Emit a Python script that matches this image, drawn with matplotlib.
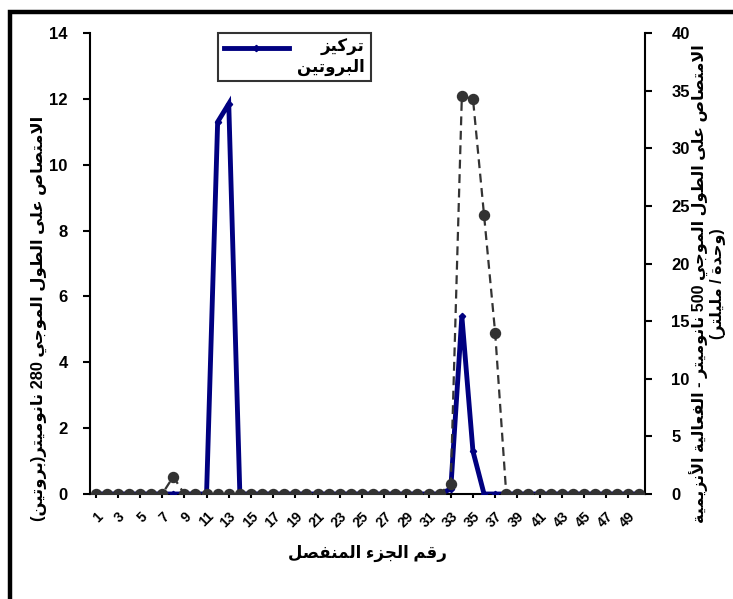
import re
import numpy as np
import matplotlib
matplotlib.use("Agg")
import matplotlib.pyplot as plt
from matplotlib.patches import Rectangle

# ---------------- data ----------------
fractions = list(range(1, 51))
protein = [0, 0, 0, 0, 0, 0, 0, 0, 0, 0,
           0, 11.3, 11.85, 0, 0, 0, 0, 0, 0, 0,
           0, 0, 0, 0, 0, 0, 0, 0, 0, 0,
           0, 0, 0.15, 5.4, 1.3, 0, 0, 0, 0, 0,
           0, 0, 0, 0, 0, 0, 0, 0, 0, 0]
enzyme = [0, 0, 0, 0, 0, 0, 0, 1.5, 0, 0,
          0, 0, 0, 0, 0, 0, 0, 0, 0, 0,
          0, 0, 0, 0, 0, 0, 0, 0, 0, 0,
          0, 0, 0.9, 34.5, 34.3, 24.2, 14.0, 0, 0, 0,
          0, 0, 0, 0, 0, 0, 0, 0, 0, 0]
xtick_vals = list(range(1, 50, 2))
left_ticks = [0, 2, 4, 6, 8, 10, 12, 14]
right_ticks = [0, 5, 10, 15, 20, 25, 30, 35, 40]

legend_label = "تركيز\nالبروتين"
xlabel = "رقم الجزء المنفصل"
ylabel_left = "الامتصاص على الطول الموجي 280 نانوميتر(بروتين)"
ylabel_right = "الامتصاص على الطول الموجي 500 نانوميتر - الفعالية الأنزيمية\n(وحدة / مليلتر)"

# ------------- minimal Arabic shaping + bidi -------------
_FORMS = {
    '\u0621': (0xFE80, 1), '\u0622': (0xFE81, 2), '\u0623': (0xFE83, 2),
    '\u0624': (0xFE85, 2), '\u0625': (0xFE87, 2), '\u0626': (0xFE89, 4),
    '\u0627': (0xFE8D, 2), '\u0628': (0xFE8F, 4), '\u0629': (0xFE93, 2),
    '\u062A': (0xFE95, 4), '\u062B': (0xFE99, 4), '\u062C': (0xFE9D, 4),
    '\u062D': (0xFEA1, 4), '\u062E': (0xFEA5, 4), '\u062F': (0xFEA9, 2),
    '\u0630': (0xFEAB, 2), '\u0631': (0xFEAD, 2), '\u0632': (0xFEAF, 2),
    '\u0633': (0xFEB1, 4), '\u0634': (0xFEB5, 4), '\u0635': (0xFEB9, 4),
    '\u0636': (0xFEBD, 4), '\u0637': (0xFEC1, 4), '\u0638': (0xFEC5, 4),
    '\u0639': (0xFEC9, 4), '\u063A': (0xFECD, 4), '\u0641': (0xFED1, 4),
    '\u0642': (0xFED5, 4), '\u0643': (0xFED9, 4), '\u0644': (0xFEDD, 4),
    '\u0645': (0xFEE1, 4), '\u0646': (0xFEE5, 4), '\u0647': (0xFEE9, 4),
    '\u0648': (0xFEED, 2), '\u0649': (0xFEEF, 2), '\u064A': (0xFEF1, 4),
}
_LAM_ALEF = {'\u0622': 0xFEF5, '\u0623': 0xFEF7, '\u0625': 0xFEF9, '\u0627': 0xFEFB}


def _shape(s):
    units = []
    i = 0
    while i < len(s):
        c = s[i]
        if c == '\u0644' and i + 1 < len(s) and s[i + 1] in _LAM_ALEF:
            units.append(('LA', s[i + 1]))
            i += 2
        else:
            units.append(('C', c))
            i += 1

    def join_next(u):
        if u[0] == 'LA':
            return False
        f = _FORMS.get(u[1])
        return f is not None and f[1] == 4

    def join_prev(u):
        if u[0] == 'LA':
            return True
        f = _FORMS.get(u[1])
        return f is not None and f[1] >= 2

    out = []
    for k, u in enumerate(units):
        prev = units[k - 1] if k > 0 else None
        nxt = units[k + 1] if k + 1 < len(units) else None
        jp = prev is not None and join_next(prev) and join_prev(u)
        jn = nxt is not None and join_next(u) and join_prev(nxt)
        if u[0] == 'LA':
            out.append(chr(_LAM_ALEF[u[1]] + (1 if jp else 0)))
            continue
        f = _FORMS.get(u[1])
        if f is None:
            out.append(u[1])
            continue
        base, n = f
        if n == 1:
            out.append(chr(base))
        elif n == 2:
            out.append(chr(base + (1 if jp else 0)))
        else:
            off = 3 if (jp and jn) else 1 if jp else 2 if jn else 0
            out.append(chr(base + off))
    return ''.join(out)


def ar(text):
    lines = []
    mirror = {'(': ')', ')': '('}
    for line in text.split('\n'):
        tokens = re.findall(r'[0-9A-Za-z.]+|.', _shape(line))
        lines.append(''.join(mirror.get(t, t) for t in reversed(tokens)))
    return '\n'.join(lines)


# ---------------- figure ----------------
FAM = ['Liberation Sans', 'DejaVu Sans']
plt.rcParams['font.family'] = FAM
plt.rcParams['font.weight'] = 'bold'

W, H = 733, 599
fig = plt.figure(figsize=(W / 100, H / 100), dpi=100)
ax = fig.add_axes([90 / W, 1 - 494 / H, 555 / W, 461 / H])
ax2 = ax.twinx()

navy = '#000080'
gray = '#333333'

ax.plot(fractions, protein, color=navy, lw=3.5, marker='D', ms=3.2,
        label=ar(legend_label), zorder=3, solid_joinstyle='miter')
ax2.plot(fractions, enzyme, color=gray, lw=1.6, ls=(0, (4, 2.5)),
         marker='o', ms=7.2, zorder=3)

ax.set_xlim(0.5, 50.5)
ax.set_ylim(0, 14)
ax2.set_ylim(0, 40)
ax.set_yticks(left_ticks)
ax2.set_yticks(right_ticks)
ax.set_xticks(xtick_vals)
ax.set_xticklabels([str(v) for v in xtick_vals], rotation=45, ha='right',
                   rotation_mode='anchor', fontsize=10, fontweight='bold')
ax.tick_params(axis='x', length=3, width=1.5, pad=8)
ax.tick_params(axis='y', length=5, width=1.5, pad=11, labelsize=12)
ax2.tick_params(axis='y', length=5, width=1.5, pad=14, labelsize=12)

for a in (ax, ax2):
    a.spines['top'].set_visible(False)
    for s in a.spines.values():
        s.set_linewidth(1.5)
        s.set_color('black')
ax2.spines['left'].set_visible(False)
ax2.spines['bottom'].set_visible(False)
ax.spines['right'].set_visible(False)

# axis titles
fig.text(367 / W, 1 - 553 / H, ar(xlabel), ha='center', va='center',
         fontsize=12, fontweight='bold', family=FAM)
fig.text(39 / W, 1 - 318 / H, ar(ylabel_left), ha='center', va='center',
         rotation=90, fontsize=11.8, fontweight='bold', family=FAM)
fig.text(708 / W, 1 - 284 / H, ar(ylabel_right), ha='center', va='center',
         rotation=90, fontsize=11.5, fontweight='bold', family=FAM,
         multialignment='center', linespacing=1.1)

# legend
leg = ax.legend(loc='upper left', bbox_to_anchor=(218 / W, 1 - 33 / H),
                bbox_transform=fig.transFigure, borderaxespad=0,
                frameon=True, fancybox=False, handlelength=3.9,
                borderpad=0.35, handletextpad=0.5,
                prop={'family': FAM, 'weight': 'bold', 'size': 12})
leg.get_frame().set_edgecolor('black')
leg.get_frame().set_linewidth(1.5)
for t in leg.get_texts():
    t.set_multialignment('right')
for ln in leg.get_lines():
    ln.set_ydata(np.asarray(ln.get_ydata(), dtype=float) + 6.5)

# outer frame of the chart area
fig.patches.append(Rectangle((9.5 / W, -0.2), 1.2, 1.2 - 12 / H,
                             transform=fig.transFigure, fill=False,
                             edgecolor='black', linewidth=3.2, zorder=10))

fig.savefig('out.png', dpi=100)
